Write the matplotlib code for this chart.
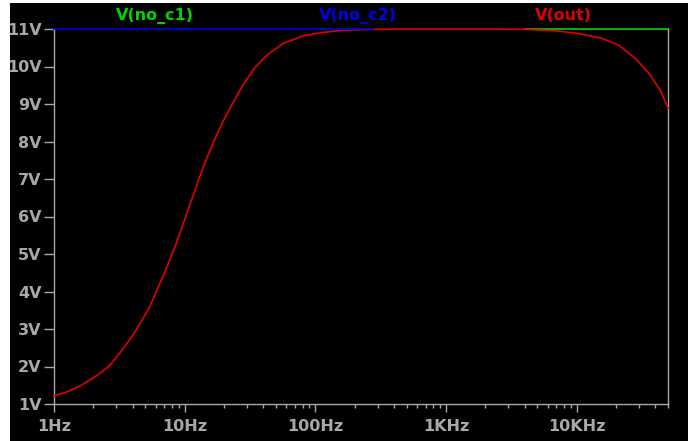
import numpy as np
import matplotlib
matplotlib.use("Agg")
import matplotlib.pyplot as plt
from matplotlib.patches import Rectangle

# V(out)
freq = [1, 1.23, 1.60, 2.22, 2.65, 3.16, 4.01, 4.78, 5.38, 6.05, 7.23, 8.63,
        10.0, 11.6, 13.8, 16.5, 19.7, 22.9, 28.1, 34.5, 42.5, 57.1, 81.3, 116,
        165, 275, 500, 1000, 2000, 4000, 7000, 10300, 15600, 20900, 28100,
        35600, 43700, 50000]
v_out = [1.22, 1.31, 1.49, 1.80, 2.02, 2.34, 2.83, 3.27, 3.58, 3.98, 4.61, 5.28,
         5.92, 6.56, 7.30, 7.96, 8.54, 8.97, 9.52, 9.97, 10.30, 10.62, 10.82,
         10.91, 10.97, 10.99, 11.0, 11.0, 11.0, 10.99, 10.95, 10.88, 10.75,
         10.57, 10.22, 9.82, 9.37, 8.89]

# the two flat nodes, where they show on the plot
freq_c1 = [4000, 50000]
v_no_c1 = [11.0, 11.0]
freq_c2 = [1, 275]
v_no_c2 = [11.0, 11.0]

yticks = [1, 2, 3, 4, 5, 6, 7, 8, 9, 10, 11]
ylabels = ["%dV" % v for v in yticks]
xticks = [1, 10, 100, 1000, 10000]
xlabels = ["1Hz", "10Hz", "100Hz", "1KHz", "10KHz"]

grey = "#a8a8a8"
c_green = "#00d400"
c_blue = "#0000e6"
c_red = "#e00000"

plt.rcParams["font.family"] = ["DejaVu Sans"]

fig = plt.figure(figsize=(6.88, 4.41), dpi=100, facecolor="white")
# black plot pane (white strip at left/top as in the screenshot)
fig.patches.append(Rectangle((10 / 688, 0), 1 - 10 / 688, 1 - 3 / 441,
                             transform=fig.transFigure, facecolor="black",
                             edgecolor="none", zorder=-10))

ax = fig.add_axes([54 / 688, 1 - 404 / 441, (668 - 54) / 688, (404 - 29) / 441])
ax.set_facecolor("black")
ax.set_xscale("log")
ax.set_xlim(1, 50000)
ax.set_ylim(1, 11)

ax.plot(freq_c1, v_no_c1, color=c_green, lw=1.2, clip_on=False, zorder=2)
ax.plot(freq, v_out, color=c_red, lw=1.2, clip_on=False, zorder=3)
ax.plot(freq_c2, v_no_c2, color=c_blue, lw=1.2, clip_on=False, zorder=4)

ax.spines["top"].set_visible(False)
for s in ["left", "right", "bottom"]:
    ax.spines[s].set_color(grey)
    ax.spines[s].set_linewidth(1.0)

ax.set_yticks(yticks)
ax.set_yticklabels(ylabels)
ax.set_xticks(xticks)
ax.set_xticklabels(xlabels)
ax.xaxis.set_minor_locator(matplotlib.ticker.LogLocator(base=10, subs=np.arange(2, 10)))
ax.xaxis.set_minor_formatter(matplotlib.ticker.NullFormatter())

ax.tick_params(axis="y", direction="out", length=7, width=1, color=grey,
               labelcolor=grey, labelsize=11.5, pad=2)
ax.tick_params(axis="x", which="major", direction="out", length=6, width=1,
               color=grey, labelcolor=grey, labelsize=11.5, pad=5)
ax.tick_params(axis="x", which="minor", direction="out", length=3, width=1,
               color=grey)
for lab in ax.get_xticklabels() + ax.get_yticklabels():
    lab.set_fontweight("bold")

# trace names along the top
fig.text(155 / 688, 1 - 16 / 441, "V(no_c1)", color=c_green, fontsize=11.5,
         fontweight="bold", ha="center", va="center")
fig.text(358 / 688, 1 - 16 / 441, "V(no_c2)", color=c_blue, fontsize=11.5,
         fontweight="bold", ha="center", va="center")
fig.text(563 / 688, 1 - 16 / 441, "V(out)", color=c_red, fontsize=11.5,
         fontweight="bold", ha="center", va="center")

fig.savefig("out.png", dpi=100, facecolor=fig.get_facecolor())
